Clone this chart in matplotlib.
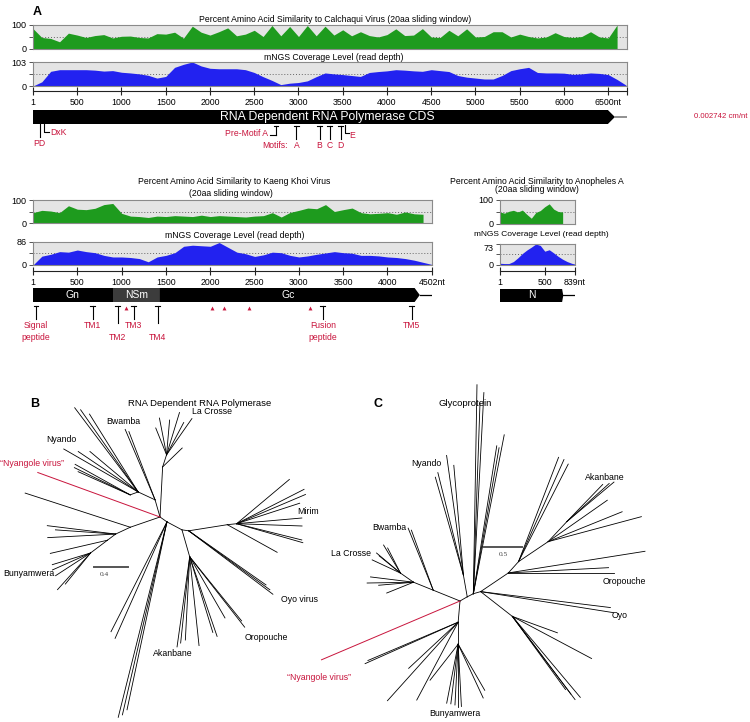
import matplotlib.pyplot as plt
import numpy as np

# figure is laid out in pixels of a 750 x 722 canvas
W, H = 750, 722
RED = '#c8143c'
GREEN = '#1e9b1e'
BLUE = '#2222f0'

plt.rcParams['font.family'] = ['Liberation Sans', 'DejaVu Sans']

# ---------------- data ----------------
# L segment (RdRp), values every 100 nt
rdrp_sim = [85, 48, 44, 30, 66, 58, 48, 56, 60, 46, 53, 54, 48, 46, 64, 62, 70, 45,
            95, 70, 58, 72, 88, 55, 62, 78, 52, 98, 55, 94, 52, 98, 55, 95, 58, 80,
            55, 72, 56, 50, 60, 84, 56, 58, 85, 50, 48, 78, 55, 84, 50, 52, 72, 72,
            50, 62, 52, 46, 50, 68, 52, 48, 52, 72, 50, 46, 100]
rdrp_cov = [0, 18, 63, 70, 70, 70, 70, 68, 64, 66, 59, 56, 52, 46, 34, 41, 80, 93,
            103, 86, 76, 74, 74, 74, 70, 58, 40, 24, 6, 12, 15, 22, 40, 56, 52, 49,
            45, 41, 58, 62, 65, 70, 68, 65, 63, 70, 66, 62, 45, 38, 34, 30, 30, 45,
            66, 74, 80, 58, 56, 56, 55, 50, 52, 56, 54, 49, 28, 4]
rdrp_ticks = [1, 500, 1000, 1500, 2000, 2500, 3000, 3500, 4000, 4500, 5000, 5500,
              6000, 6500, 6713]
rdrp_labels = ['1', '500', '1000', '1500', '2000', '2500', '3000', '3500', '4000',
               '4500', '5000', '5500', '6000', '6500nt', '']
rdrp_motif_pos = [2977, 3239, 3352, 3477]
rdrp_motif_lab = ['A', 'B', 'C', 'D']

# M segment (glycoprotein), values every 100 nt
gp_sim = [45, 55, 52, 45, 75, 60, 58, 64, 80, 85, 42, 30, 28, 24, 30, 28, 32, 30,
          28, 34, 28, 32, 30, 28, 26, 30, 32, 45, 26, 46, 55, 65, 62, 80, 50, 58,
          65, 45, 40, 42, 45, 38, 48, 40, 38]
gp_cov = [0, 33, 40, 50, 48, 56, 50, 46, 36, 30, 30, 28, 24, 12, 30, 36, 46, 70,
          74, 72, 70, 84, 66, 48, 42, 32, 38, 48, 46, 36, 30, 34, 40, 45, 50, 46,
          44, 36, 36, 34, 30, 28, 24, 18, 10, 2]
gp_ticks = [1, 500, 1000, 1500, 2000, 2500, 3000, 3500, 4000, 4502]
gp_labels = ['1', '500', '1000', '1500', '2000', '2500', '3000', '3500', '4000', '4502nt']
gp_domains = [('Gn', 1, 902, '#000000'), ('NSm', 902, 1432, '#3c3c3c'), ('Gc', 1432, 4306, '#000000')]
gp_marks = [35, 676, 958, 1139, 1409, 3270, 4273]
gp_mark_lab = ['Signal\npeptide', 'TM1', 'TM2', 'TM3', 'TM4', 'Fusion\npeptide', 'TM5']
gp_mark_low = [False, False, True, False, True, False, False]
gp_glyc = [1048, 2018, 2153, 2435, 3123]

# S segment (N), values every 50 nt
n_sim = [50, 45, 53, 57, 50, 58, 40, 24, 48, 56, 72, 84, 62, 52, 50]
n_cov = [6, 5, 5, 12, 25, 40, 52, 62, 73, 68, 48, 53, 42, 30, 20, 12, 6, 2]

# unrooted trees: (parent node, angle in degrees, branch length); node i+1 is the child of edge i
tree_rdrp = [
    (0, -35, 0.10), (1, -28, 0.20), (2, -8, 0.08), (0, 87, 0.59), (4, 72, 0.15),
    (5, 112, 0.34), (5, 101, 0.44), (5, 85, 0.41), (5, 73, 0.52), (5, 62, 0.43),
    (5, 55, 0.52), (4, 44, 0.32), (0, 106, 0.21), (13, 113, 0.90), (13, 111, 0.86),
    (13, 155, 0.22), (16, 127, 1.24), (16, 125, 1.18), (16, 122, 1.08), (16, 150, 1.01),
    (16, 146, 0.85), (16, 140, 0.74), (16, 200, 0.10), (23, 151, 0.74), (23, 154, 0.73),
    (23, 156, 0.67), (0, 199, 0.37), (27, 162, 1.30), (27, 205, 0.19), (29, 173, 0.81),
    (29, 183, 0.80), (29, 176, 0.71), (29, 217, 0.12), (33, 193, 0.69), (33, 217, 0.25),
    (35, 197, 0.47), (35, 204, 0.49), (35, 213, 0.49), (35, 228, 0.58), (35, 231, 0.47),
    (1, 243, 1.45), (1, 246, 1.50), (1, 256, 2.37), (1, 257, 2.33), (1, 258, 2.26),
    (2, 286, 0.33), (46, 262, 1.07), (46, 264, 1.02), (46, 267, 0.98), (46, 276, 1.05),
    (46, 289, 0.99), (46, 287, 0.93), (46, 300, 0.83), (46, 308, 1.05), (46, 309, 0.97),
    (3, 323, 1.24), (3, 324, 1.18), (3, 325, 1.11), (3, 9, 0.46), (59, 331, 0.67),
    (59, 6, 0.11), (61, 40, 0.81), (61, 27, 0.89), (61, 23, 0.88), (61, 18, 0.78),
    (61, 5, 0.77), (61, -2, 0.77), (61, -14, 0.79), (61, -16, 0.81)]
tree_rdrp_new = (0, 160, 1.53)

tree_gp = [
    (0, 30, 0.11), (1, 27, 0.09), (2, 16, 0.10), (2, 89, 2.75), (2, 87, 2.65),
    (2, 88, 2.51), (2, 79, 2.13), (2, 81, 1.97), (2, 80, 1.95), (1, 100, 0.29),
    (10, 106, 1.34), (10, 104, 1.39), (10, 98, 1.59), (10, 95, 1.45), (0, 158, 0.38),
    (15, 112, 0.88), (15, 110, 0.84), (15, 158, 0.28), (18, 145, 0.21), (19, 121, 0.43),
    (19, 117, 0.37), (19, 140, 0.41), (19, 155, 0.41), (19, 141, 0.36), (18, 181, 0.61),
    (18, 173, 0.57), (18, 185, 0.46), (18, 202, 0.38), (0, 265, 0.28), (29, 204, 1.34),
    (29, 203, 1.29), (29, 228, 1.39), (29, 223, 0.89), (29, 242, 1.16), (29, 270, 0.29),
    (35, 259, 0.79), (35, 263, 0.79), (35, 267, 0.80), (35, 270, 0.82), (35, 273, 0.82),
    (35, 295, 0.78), (35, 300, 0.70), (35, 232, 0.60), (3, 322, 0.53), (44, 340, 0.63),
    (44, 332, 1.18), (44, 307, 1.37), (44, 310, 1.39), (44, 306, 1.19), (44, 307, 1.28),
    (3, 353, 1.72), (3, 351, 1.77), (3, 34, 0.44), (53, 9, 1.82), (53, 3, 1.32),
    (53, 0, 1.39), (53, 48, 0.20), (57, 69, 1.47), (57, 63, 1.44), (57, 66, 1.47),
    (57, 34, 0.47), (61, 15, 1.27), (61, 22, 1.05), (61, 35, 0.95), (61, 47, 0.36),
    (65, 46, 0.68), (65, 40, 0.81), (65, 42, 0.75)]
tree_gp_new = (0, 203, 1.98)

fig = plt.figure(figsize=(7.5, 7.22), dpi=100)


def px_rect(x0, y0, x1, y1):
    return [x0 / W, 1 - y1 / H, (x1 - x0) / W, (y1 - y0) / H]


def ftext(x, y, s, ha='center', size=6.2, **kw):
    fig.text(x / W, 1 - y / H, s, ha=ha, va='center', fontsize=size, **kw)


def profile(x0, x1, y0, y1, nt_max, values, step, top, color):
    ax = fig.add_axes(px_rect(x0, y0, x1, y1))
    pos = np.arange(len(values)) * step + 1
    ax.fill_between(pos, values, color=color, lw=0, zorder=2)
    ax.axhline(top / 2, ls=(0, (1, 2)), color='#666666', lw=0.7, zorder=1)
    ax.set_xlim(1, nt_max)
    ax.set_ylim(0, top)
    ax.set_facecolor('#e4e4e4')
    ax.set_xticks([])
    ax.set_yticks([0, top], ['0', str(top)])
    ax.set_yticks([top / 2], minor=True)
    ax.tick_params(axis='y', which='both', length=3, width=0.7, color='#555555',
                   labelsize=6.5, pad=1.5)
    for s in ax.spines.values():
        s.set_color('#8a8a8a')
        s.set_linewidth(0.8)
    return ax


def ruler(x0, x1, y, nt_max, ticks, labels):
    ax = fig.add_axes(px_rect(x0, y - 3, x1, y + 3))
    ax.set_xlim(1, nt_max)
    ax.set_ylim(-1, 1)
    ax.patch.set_visible(False)
    for k in ('left', 'right', 'top'):
        ax.spines[k].set_visible(False)
    ax.spines['bottom'].set_position(('data', 0))
    ax.spines['bottom'].set_color('#222222')
    ax.set_yticks([])
    ax.set_xticks(ticks, labels)
    ax.tick_params(axis='x', direction='inout', length=6, width=0.8, color='#222222',
                   labelsize=6.3, pad=2)


def map_axes(x0, x1, y0, y1, nt_max):
    ax = fig.add_axes(px_rect(x0, y0, x1, y1))
    ax.set_xlim(1, nt_max)
    ax.set_ylim(y1, y0)
    ax.axis('off')
    return ax


def bar(ax, start, end, tip, top, bottom, color):
    mid = (top + bottom) / 2
    ax.fill([start, end, tip, end, start], [top, top, mid, bottom, bottom], color=color, lw=0)


def tmark(ax, x, y_top, y_bot, half):
    ax.plot([x, x], [y_top, y_bot], color='k', lw=0.8)
    ax.plot([x - half, x + half], [y_top, y_top], color='k', lw=0.8)


def draw_tree(ax, edges, new_edge):
    pts = [(0.0, 0.0)]
    for parent, ang, ln in edges:
        px, py = pts[parent]
        a = np.radians(ang)
        cx, cy = px + ln * np.cos(a), py + ln * np.sin(a)
        pts.append((cx, cy))
        ax.plot([px, cx], [py, cy], color='k', lw=0.6)
    parent, ang, ln = new_edge
    px, py = pts[parent]
    a = np.radians(ang)
    ax.plot([px, px + ln * np.cos(a)], [py, py + ln * np.sin(a)], color=RED, lw=0.7)


# ---------------- panel A : L segment ----------------
ftext(37, 12, 'A', size=9, weight='bold')
ftext(335, 19, 'Percent Amino Acid Similarity to Calchaqui Virus (20aa sliding window)')
profile(33, 627, 25, 49, 6713, rdrp_sim, 100, 100, GREEN)
ftext(334, 57, 'mNGS Coverage Level (read depth)')
profile(33, 627, 62, 86, 6713, rdrp_cov, 100, 103, BLUE)
ruler(33, 627, 91, 6713, rdrp_ticks, rdrp_labels)

ax = map_axes(33, 627, 104, 152, 6713)
bar(ax, 1, 6497, 6576, 110, 124, 'k')
ax.plot([6576, 6713], [117, 117], color='#888888', lw=1.3)
ax.text(3322, 117, 'RNA Dependent RNA Polymerase CDS', color='white', fontsize=8.8,
        ha='center', va='center')
ax.plot([80, 80], [124, 137], color='k', lw=0.8)
ax.text(68, 143, 'PD', color=RED, fontsize=6.2, ha='center', va='center')
ax.plot([125, 125, 181], [124, 132, 132], color='k', lw=0.8)
ax.text(192, 132.5, 'DxK', color=RED, fontsize=6.2, ha='left', va='center')
tmark(ax, 2750, 126, 135, 25)
ax.plot([2682, 2750], [135, 135], color='k', lw=0.8)
ax.text(2655, 134, 'Pre-Motif A', color=RED, fontsize=6.2, ha='right', va='center')
for pos, lab in zip(rdrp_motif_pos, rdrp_motif_lab):
    tmark(ax, pos, 126, 139, 25)
    ax.text(pos, 146, lab, color=RED, fontsize=6.2, ha='center', va='center')
ax.text(2881, 146, 'Motifs:', color=RED, fontsize=6.2, ha='right', va='center')
ax.plot([3523, 3523, 3570], [125, 133, 133], color='k', lw=0.8)
ax.text(3605, 135, 'E', color=RED, fontsize=6.2, ha='center', va='center')

ftext(748, 117, '0.002742 cm/nt', ha='right', size=5.6, color=RED)

# ---------------- panel A : M segment ----------------
ftext(234, 181, 'Percent Amino Acid Similarity to Kaeng Khoi Virus')
ftext(231, 194, '(20aa sliding window)')
profile(33, 432, 200, 223, 4502, gp_sim, 100, 100, GREEN)
ftext(235, 236, 'mNGS Coverage Level (read depth)')
profile(33, 432, 242, 265, 4502, gp_cov, 100, 86, BLUE)
ruler(33, 432, 271, 4502, gp_ticks, gp_labels)

ax = map_axes(33, 432, 284, 345, 4502)
for name, start, end, col in gp_domains:
    tip = 4364 if name == 'Gc' else end
    bar(ax, start, end, tip, 288, 302, col)
    ax.text((start + end) / 2 if name != 'Gc' else 2875, 295, name, color='white',
            fontsize=7.5, ha='center', va='center')
ax.plot([4364, 4502], [295, 295], color='k', lw=0.9)
for pos, lab, low in zip(gp_marks, gp_mark_lab, gp_mark_low):
    tmark(ax, pos, 306, 323 if low else 319, 28)
    if '\n' in lab:
        a, b = lab.split('\n')
        ax.text(pos, 326, a, color=RED, fontsize=6.2, ha='center', va='center')
        ax.text(pos, 337, b, color=RED, fontsize=6.2, ha='center', va='center')
    else:
        ax.text(pos, 337 if low else 326, lab, color=RED, fontsize=6.2,
                ha='center', va='center')
ax.plot(gp_glyc, [308] * len(gp_glyc), ls='none', marker='^', ms=2.8, color=RED, mew=0)

# ---------------- panel A : S segment ----------------
ftext(537, 181, 'Percent Amino Acid Similarity to Anopheles A')
ftext(537, 190, '(20aa sliding window)')
profile(500, 575, 200, 224, 839, n_sim, 50, 100, GREEN)
ftext(541, 234, 'mNGS Coverage Level (read depth)', size=6.0)
ax_n = profile(500, 575, 244, 265, 839, n_cov, 50, 73, BLUE)
ax_n.get_yticklabels()[1].set_va('top')
ruler(500, 575, 271, 839, [1, 500, 839], ['1', '500', '839nt'])

ax = map_axes(500, 575, 284, 310, 839)
bar(ax, 1, 695, 708, 289, 302, 'k')
ax.plot([708, 839], [295, 295], color='k', lw=0.9)
ax.text(358, 295.5, 'N', color='white', fontsize=7.5, ha='center', va='center')

# ---------------- panel B : RdRp tree ----------------
ftext(35, 404, 'B', size=9, weight='bold')
ftext(200, 404, 'RNA Dependent RNA Polymerase', size=6.8)
sb = 85.0  # pixels per substitution
ax = fig.add_axes(px_rect(0, 395, 330, 722))
ax.set_xlim(-160 / sb, 170 / sb)
ax.set_ylim(-(722 - 517) / sb, (517 - 395) / sb)
ax.axis('off')
draw_tree(ax, tree_rdrp, tree_rdrp_new)
ax.plot([-66 / sb, -66 / sb + 0.4], [-50 / sb, -50 / sb], color='#555555', lw=1.4)
ftext(104, 574, '0.4', size=5.3, family='Liberation Serif', color='#444444')
for x, y, s in [(192, 412, 'La Crosse'), (106, 421, 'Bwamba'), (46, 440, 'Nyando'),
                (297, 511, 'Mirim'), (3, 573, 'Bunyamwera'), (281, 599, 'Oyo virus'),
                (245, 637, 'Oropouche'), (153, 653, 'Akanbane')]:
    ftext(x, y, s, ha='left', size=6.3)
ftext(0, 463, '\u201cNyangole virus\u201d', ha='left', size=6.3, color=RED)

# ---------------- panel C : glycoprotein tree ----------------
ftext(378, 404, 'C', size=9, weight='bold')
ftext(465, 404, 'Glycoprotein', size=6.8)
sc = 76.0
ax = fig.add_axes(px_rect(280, 380, 750, 722))
ax.set_xlim(-(460 - 280) / sc, (750 - 460) / sc)
ax.set_ylim(-(722 - 601) / sc, (601 - 380) / sc)
ax.axis('off')
draw_tree(ax, tree_gp, tree_gp_new)
ax.plot([24 / sc, 24 / sc + 0.5], [54 / sc, 54 / sc], color='#555555', lw=1.4)
ftext(503, 554, '0.5', size=5.3, family='Liberation Serif', color='#444444')
for x, y, s in [(411, 464, 'Nyando'), (585, 477, 'Akanbane'), (372, 528, 'Bwamba'),
                (331, 553, 'La Crosse'), (603, 581, 'Oropouche'), (612, 615, 'Oyo'),
                (429, 713, 'Bunyamwera')]:
    ftext(x, y, s, ha='left', size=6.3)
ftext(287, 677, '\u201cNyangole virus\u201d', ha='left', size=6.3, color=RED)

fig.savefig('out.png', dpi=100)
